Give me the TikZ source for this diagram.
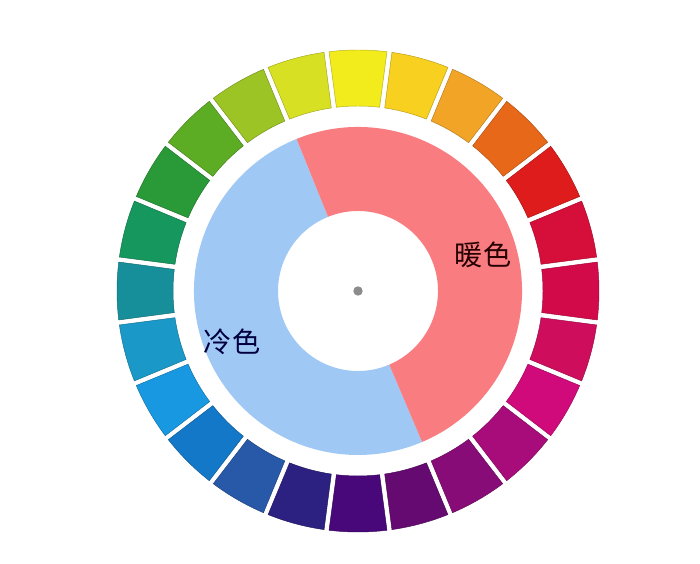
\documentclass[tikz,border=0pt]{standalone}
\usepackage{fontspec}
\usepackage{xcolor}
\usepackage{tikz}
\newfontfamily\cjk{Noto Sans CJK SC}
\definecolor{coolblue}{HTML}{A0C8F5}
\definecolor{warmpink}{HTML}{F97D80}

\begin{document}
\begin{tikzpicture}[
  x=0.03cm, y=0.03cm,
  seg/.style={fill=hue, draw=hue!75!black, line width=0.4pt},
  label/.style={font=\cjk\fontsize{24}{24}\selectfont, inner sep=0pt}]
\fill[white] (0,0) rectangle (700,564);
\useasboundingbox (0,0) rectangle (700,564);
\begin{scope}[shift={(358,273)}]
% outer ring, 24 hues clockwise from the top
\foreach \ang/\col in {90/F3EC1C,75/F8D020,60/F2A426,45/E8681A,30/DE1C1C,15/D60E3A,
  0/D20A4A,-15/CE0E5C,-30/D00A7A,-45/A80C7A,-60/880C78,-75/640A70,
  -90/48087A,-105/2C2080,-120/2858A8,-135/1478C8,-150/1898E0,-165/1A98C8,
  180/178F9A,165/16975E,150/2A9A38,135/5CAC24,120/9CC424,105/D8E024}
{
  \definecolor{hue}{HTML}{\col}
  \path[seg] (\ang-6.7:185) -- (\ang-6.9:241)
    arc[start angle=\ang-6.9, end angle=\ang+6.9, radius=241]
    -- (\ang+6.7:185)
    arc[start angle=\ang+6.7, end angle=\ang-6.7, radius=185] -- cycle;
}
% warm / cool halves
\fill[coolblue] (112:164) arc[start angle=112, end angle=293, radius=164]
  -- (293:80) arc[start angle=293, end angle=112, radius=80] -- cycle;
\fill[warmpink] (-67:164) arc[start angle=-67, end angle=112, radius=164]
  -- (112:80) arc[start angle=112, end angle=-67, radius=80] -- cycle;
\node[circle, fill=gray!90, minimum size=8, inner sep=0pt] (dot) at (0,0) {};
\node[label, text=black!85!red] (warm) at (125,36) {暖色};
\node[label, text=blue!25!black] (cool) at (-126,-51) {冷色};
\end{scope}
\end{tikzpicture}
\end{document}
